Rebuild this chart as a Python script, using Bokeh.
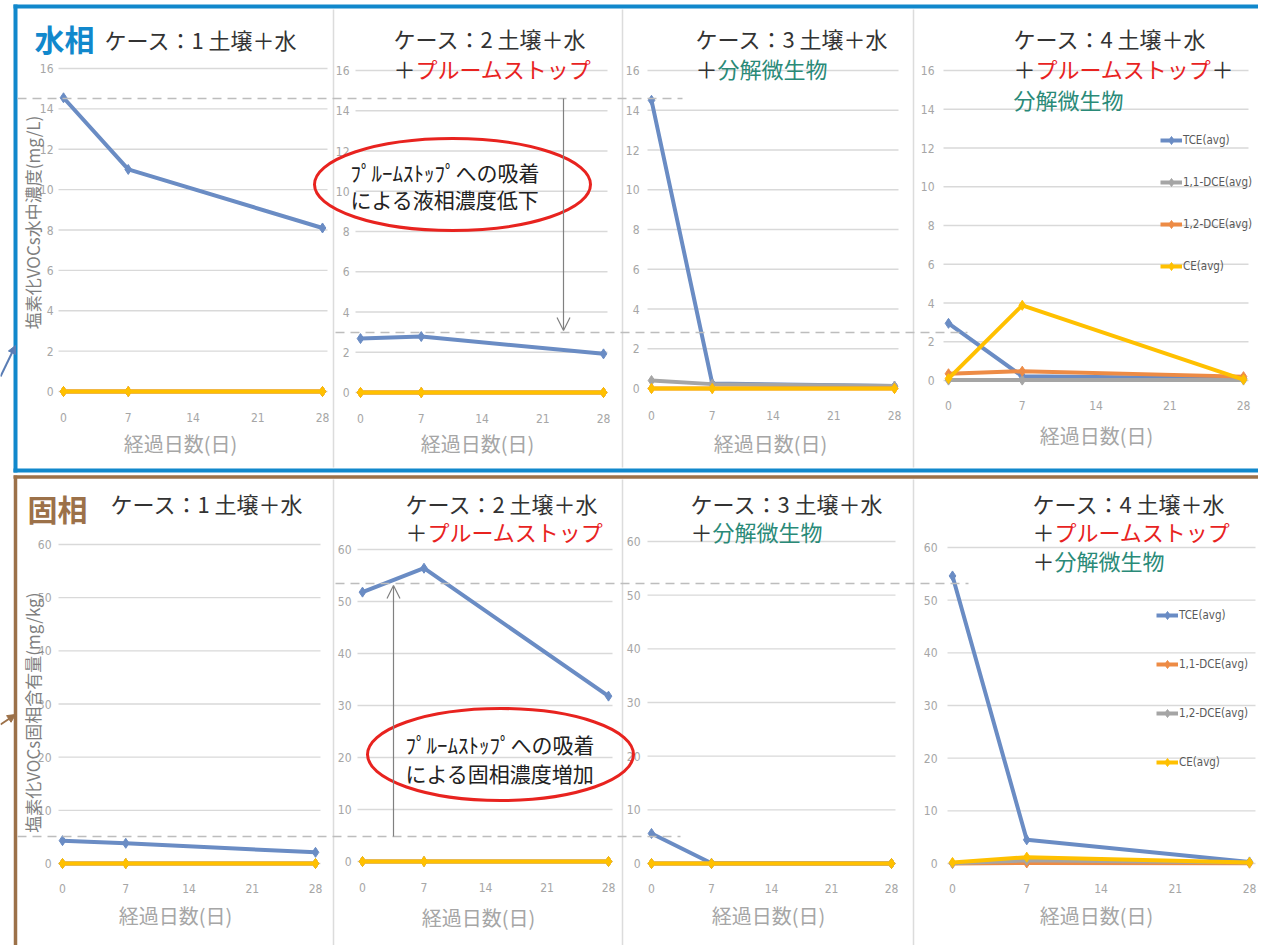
import math
from bokeh.plotting import figure
from bokeh.models import Range1d, Arrow, OpenHead, NormalHead, Legend, LegendItem
from bokeh.core.properties import value
from bokeh.embed import file_html
from bokeh.resources import INLINE

# ---------------- data ----------------
days = [0, 7, 28]
x_ticks = [0, 7, 14, 21, 28]
water_ticks = [0, 2, 4, 6, 8, 10, 12, 14, 16]
solid_ticks = [0, 10, 20, 30, 40, 50, 60]
series_names = ["TCE(avg)", "1,1-DCE(avg)", "1,2-DCE(avg)", "CE(avg)"]

# water phase (mg/L)
w1_tce = [14.55, 11.0, 8.1]
w1_dce11 = [0.0, 0.0, 0.0]
w1_dce12 = [0.0, 0.0, 0.0]
w1_ce = [0.0, 0.0, 0.0]
w2_tce = [2.68, 2.78, 1.92]
w2_dce11 = [0.0, 0.0, 0.0]
w2_dce12 = [0.0, 0.0, 0.0]
w2_ce = [0.0, 0.0, 0.0]
w3_tce = [14.5, 0.25, 0.12]
w3_dce11 = [0.4, 0.22, 0.12]
w3_dce12 = [0.0, 0.0, 0.0]
w3_ce = [0.0, 0.0, 0.0]
w4_tce = [2.95, 0.22, 0.1]
w4_dce11 = [0.02, 0.02, 0.02]
w4_dce12 = [0.35, 0.48, 0.2]
w4_ce = [0.1, 3.88, 0.05]

# solid phase (mg/kg)
s1_tce = [4.3, 3.8, 2.1]
s1_dce11 = [0.0, 0.0, 0.0]
s1_dce12 = [0.0, 0.0, 0.0]
s1_ce = [0.0, 0.0, 0.0]
s2_tce = [51.8, 56.4, 31.8]
s2_dce11 = [0.0, 0.0, 0.0]
s2_dce12 = [0.0, 0.0, 0.0]
s2_ce = [0.0, 0.0, 0.0]
s3_tce = [5.6, 0.05, 0.0]
s3_dce11 = [0.0, 0.0, 0.0]
s3_dce12 = [0.0, 0.0, 0.0]
s3_ce = [0.0, 0.0, 0.0]
s4_tce = [54.6, 4.5, 0.3]
s4_dce11 = [0.0, 0.1, 0.05]
s4_dce12 = [0.05, 0.6, 0.2]
s4_ce = [0.2, 1.2, 0.2]

# ---------------- styles ----------------
BLUE = "#6a8cc4"
GRAY = "#a5a5a5"
ORANGE = "#ed8b45"
YELLOW = "#ffc000"
RED = "#e8231f"
GREEN = "#2a8a78"
FRAME_BLUE = "#1188cc"
FRAME_BROWN = "#9c7149"
TXT = "#333333"
JP = value("Noto Sans CJK JP")
NUM_NAME = "DejaVu Sans Condensed, Liberation Sans Narrow, Noto Sans, sans-serif"
NUM = value(NUM_NAME)

W, H = 1258, 945
p = figure(width=W, height=H, x_range=Range1d(0, W), y_range=Range1d(H, 0),
           output_backend="svg", toolbar_location=None, min_border=0,
           x_axis_location=None, y_axis_location=None)
p.xgrid.visible = False
p.ygrid.visible = False
p.outline_line_color = None
p.background_fill_color = "white"
p.border_fill_color = "white"

panels = {
    "t1": dict(x0=63, x28=322, y0=391, yt=68, vmax=16, g=(58, 327), lx=53, ly=417, tt=(180, 443), ticks=water_ticks),
    "t2": dict(x0=360, x28=603, y0=392, yt=70, vmax=16, g=(355, 607), lx=349, ly=418, tt=(477, 443), ticks=water_ticks),
    "t3": dict(x0=651, x28=894, y0=388, yt=70, vmax=16, g=(647, 898), lx=639, ly=415, tt=(770, 443), ticks=water_ticks),
    "t4": dict(x0=948, x28=1243, y0=380, yt=70, vmax=16, g=(943, 1248), lx=934, ly=405, tt=(1096, 435), ticks=water_ticks),
    "b1": dict(x0=62, x28=315, y0=863, yt=544, vmax=60, g=(58, 320), lx=51, ly=888, tt=(175, 915), ticks=solid_ticks),
    "b2": dict(x0=362, x28=608, y0=861, yt=549, vmax=60, g=(357, 612), lx=351, ly=887, tt=(478, 917), ticks=solid_ticks),
    "b3": dict(x0=651, x28=891, y0=863, yt=541, vmax=60, g=(647, 895), lx=640, ly=888, tt=(768, 915), ticks=solid_ticks),
    "b4": dict(x0=952, x28=1249, y0=863, yt=547, vmax=60, g=(947, 1255), lx=937, ly=888, tt=(1096, 915), ticks=solid_ticks),
}

series = {
    "t1": [w1_tce, w1_dce11, w1_dce12, w1_ce],
    "t2": [w2_tce, w2_dce11, w2_dce12, w2_ce],
    "t3": [w3_tce, w3_dce11, w3_dce12, w3_ce],
    "t4": [w4_tce, w4_dce11, w4_dce12, w4_ce],
    "b1": [s1_tce, s1_dce11, s1_dce12, s1_ce],
    "b2": [s2_tce, s2_dce11, s2_dce12, s2_ce],
    "b3": [s3_tce, s3_dce11, s3_dce12, s3_ce],
    "b4": [s4_tce, s4_dce11, s4_dce12, s4_ce],
}
colors_top = [BLUE, GRAY, ORANGE, YELLOW]
colors_bottom = [BLUE, ORANGE, GRAY, YELLOW]

# ---------------- frames & separators ----------------
p.segment(x0=[15, 13, 13], y0=[4, 6, 470], x1=[15, 1262, 1262], y1=[472, 6, 470],
          line_color=FRAME_BLUE, line_width=4)
p.segment(x0=[13, 15], y0=[476.5, 475], x1=[1262, 15], y1=[476.5, 950],
          line_color=FRAME_BROWN, line_width=3.5)
p.segment(x0=[333, 622, 913, 333, 622, 913], y0=[9, 9, 9, 479, 479, 479],
          x1=[333, 622, 913, 333, 622, 913], y1=[467, 467, 467, 950, 950, 950],
          line_color="#dcdcdc", line_width=1.5)

renderers = {}
for key, g in panels.items():
    sx = (g["x28"] - g["x0"]) / 28.0
    sy = (g["y0"] - g["yt"]) / float(g["vmax"])
    p.extra_x_ranges[key] = Range1d(start=(0 - g["x0"]) / sx, end=(W - g["x0"]) / sx)
    p.extra_y_ranges[key] = Range1d(start=(g["y0"] - H) / sy, end=(g["y0"] - 0) / sy)
    ticks = g["ticks"]
    p.segment(x0=g["g"][0], x1=g["g"][1], y0=ticks, y1=ticks, y_range_name=key,
              line_color="#d9d9d9", line_width=1.3)
    p.text(x=g["lx"], y=ticks, text=[str(t) for t in ticks], y_range_name=key,
           text_align="right", text_baseline="middle", text_font=NUM,
           text_font_size="12px", text_color="#a6a6a6")
    p.text(x=x_ticks, y=g["ly"], text=[str(t) for t in x_ticks], x_range_name=key,
           text_align="center", text_baseline="middle", text_font=NUM,
           text_font_size="12px", text_color="#a6a6a6")
    p.text(x=[g["tt"][0]], y=[g["tt"][1]], text=["経過日数(日)"], text_align="center",
           text_baseline="middle", text_font=JP, text_font_size="20px", text_color="#a6a6a6")
    cols = colors_top if key.startswith("t") else colors_bottom
    rs = []
    for vals, c in zip(series[key], cols):
        lr = p.line(days, vals, x_range_name=key, y_range_name=key, line_color=c, line_width=4)
        sr = p.scatter(days, vals, x_range_name=key, y_range_name=key, marker="diamond",
                       size=10, fill_color=c, line_color=c)
        rs.append([lr, sr])
    renderers[key] = rs

p.text(x=[32], y=[222], text=["塩素化VOCs水中濃度(mg/L)"], angle=math.pi / 2,
       text_align="center", text_baseline="middle", text_font=JP, text_font_size="17px",
       text_color="#7f7f7f")
p.text(x=[32], y=[712], text=["塩素化VOCs固相含有量(mg/kg)"], angle=math.pi / 2,
       text_align="center", text_baseline="middle", text_font=JP, text_font_size="17px",
       text_color="#7f7f7f")

def txt(x, y, s, color=TXT, size="22px", bold=False):
    p.text(x=[x], y=[y], text=[s], text_align="left", text_baseline="middle",
           text_font=JP, text_font_size=size, text_color=color,
           text_font_style="bold" if bold else "normal")

txt(34, 37, "水相", FRAME_BLUE, "30px", True)
txt(104, 38, "ケース：1 土壌＋水")
txt(393, 37, "ケース：2 土壌＋水")
txt(393, 67, "＋")
txt(415, 67, "プルームストップ", RED)
txt(695, 37, "ケース：3 土壌＋水")
txt(695, 67, "＋")
txt(717, 67, "分解微生物", GREEN)
txt(1013, 37, "ケース：4 土壌＋水")
txt(1013, 67, "＋")
txt(1035, 67, "プルームストップ", RED)
txt(1211, 67, "＋")
txt(1013, 98, "分解微生物", GREEN)

txt(27, 507, "固相", FRAME_BROWN, "30px", True)
txt(110, 502, "ケース：1 土壌＋水")
txt(405, 502, "ケース：2 土壌＋水")
txt(405, 530, "＋")
txt(427, 530, "プルームストップ", RED)
txt(690, 502, "ケース：3 土壌＋水")
txt(690, 530, "＋")
txt(712, 530, "分解微生物", GREEN)
txt(1032, 502, "ケース：4 土壌＋水")
txt(1032, 530, "＋")
txt(1054, 530, "プルームストップ", RED)
txt(1032, 559, "＋")
txt(1054, 559, "分解微生物", GREEN)

p.segment(x0=[17, 335, 335, 17], x1=[682, 967, 968, 680], y0=[98, 332, 583, 836],
          y1=[98, 332, 583, 836], line_color="#bdbdbd", line_width=1.5, line_dash="9 6")

p.add_layout(Arrow(end=OpenHead(size=13, line_color="#808080", line_width=1.2),
                   x_start=563, y_start=98, x_end=563, y_end=330,
                   line_color="#808080", line_width=1.2))
p.add_layout(Arrow(end=OpenHead(size=13, line_color="#808080", line_width=1.2),
                   x_start=393, y_start=836, x_end=393, y_end=585,
                   line_color="#808080", line_width=1.2))
p.add_layout(Arrow(end=NormalHead(size=8, fill_color="#5a7db5", line_color="#5a7db5"),
                   x_start=0, y_start=376, x_end=15, y_end=345,
                   line_color="#5a7db5", line_width=2))
p.add_layout(Arrow(end=NormalHead(size=8, fill_color=FRAME_BROWN, line_color=FRAME_BROWN),
                   x_start=0, y_start=724, x_end=15, y_end=714,
                   line_color=FRAME_BROWN, line_width=2))

p.ellipse(x=[452, 500], y=[184, 754], width=[276, 266], height=[92, 92],
          fill_color=None, line_color=RED, line_width=3)
txt(350, 171, "ﾌﾟﾙｰﾑｽﾄｯﾌﾟへの吸着", "#222222", "21px")
txt(350, 198, "による液相濃度低下", "#222222", "21px")
txt(405, 743, "ﾌﾟﾙｰﾑｽﾄｯﾌﾟへの吸着", "#222222", "21px")
txt(405, 772, "による固相濃度増加", "#222222", "21px")

def make_legend(rs, labels, loc, spacing):
    items = [LegendItem(label=l, renderers=r) for l, r in zip(labels, rs)]
    leg = Legend(items=items, location=loc, orientation="vertical",
                 background_fill_alpha=0, border_line_alpha=0, padding=0, margin=0,
                 spacing=spacing, glyph_width=22, glyph_height=20, label_height=20,
                 label_standoff=1, label_text_font=NUM_NAME, label_text_font_size="11.5px",
                 label_text_color="#595959")
    p.add_layout(leg, "center")

# legend location = lower-left corner, screen px from the bottom-left of the canvas
make_legend(renderers["t4"], series_names, (1160, H - 276), 22)
make_legend(renderers["b4"], series_names, (1156, H - 772), 29)

open("out.html", "w").write(file_html(p, INLINE))
